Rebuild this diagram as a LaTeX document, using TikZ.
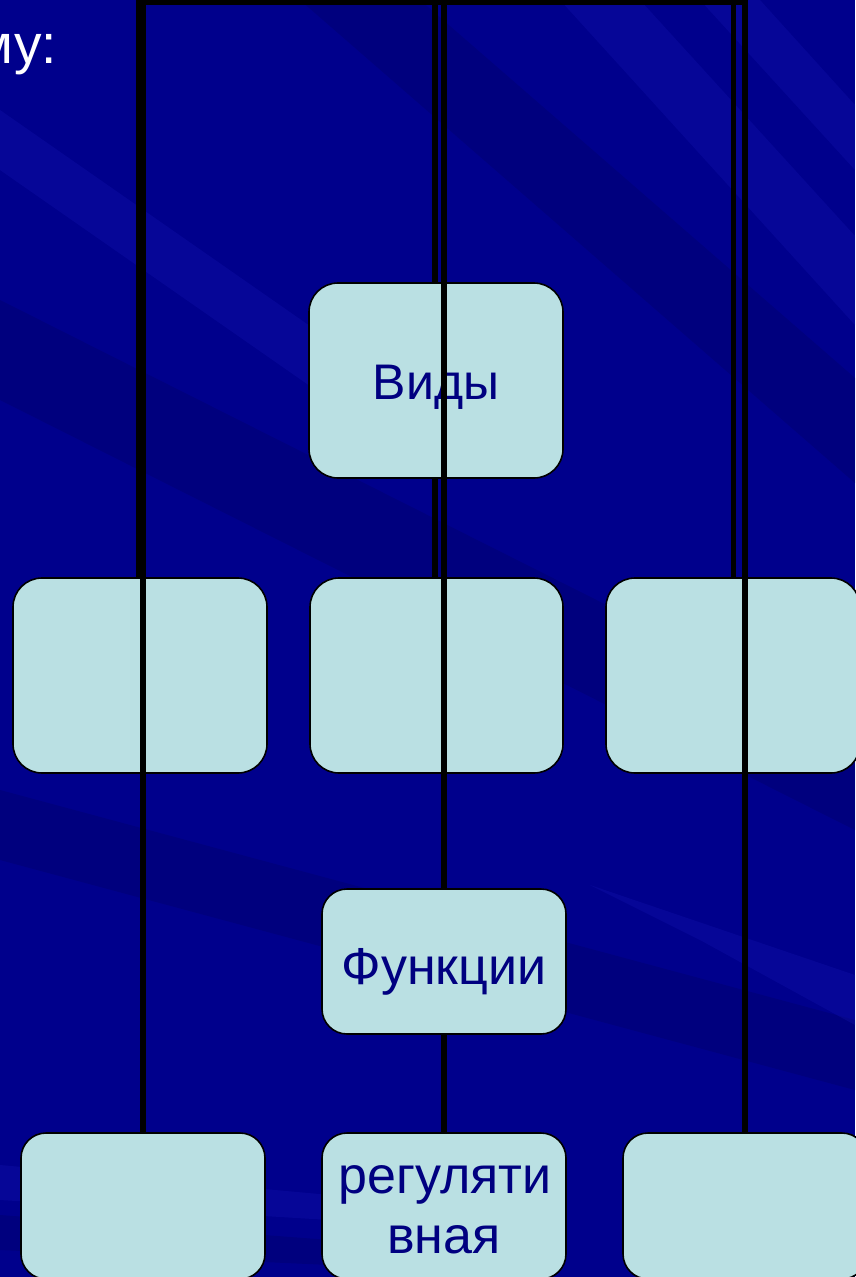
\documentclass[tikz,border=0pt]{standalone}
\usepackage{fontspec}
\setmainfont{Liberation Sans}
\definecolor{bgbase}{RGB}{0,0,140}
\definecolor{bgdark}{RGB}{0,0,100}
\definecolor{bglight}{RGB}{25,25,185}
\definecolor{boxfill}{RGB}{186,224,227}
\definecolor{txtblue}{RGB}{0,0,128}
\tikzset{
  box/.style={draw=black, line width=1.6pt, fill=boxfill, rounded corners=29pt, inner sep=0pt, minimum width=254pt, minimum height=195pt},
  sbox/.style={box, rounded corners=25pt, minimum width=244pt, minimum height=146pt},
  lbl/.style={text=txtblue, font=\fontsize{50}{60}\selectfont, inner sep=0pt},
  lblB/.style={lbl, font=\fontsize{52}{62}\selectfont},
  linkA/.style={line width=5.5pt, draw=black},
  linkB/.style={line width=6pt, draw=black},
  streakD/.style={fill=bgdark, opacity=0.35},
  streakL/.style={fill=bglight, opacity=0.25},
}
\begin{document}
\begin{tikzpicture}[x=1pt,y=-1pt]
\useasboundingbox (0,0) rectangle (855,1277);
\fill[bgbase] (0,0) rectangle (855,1277);
% background streaks
\begin{scope}
\clip (0,0) rectangle (855,1277);
\fill[streakD] (300,0) -- (420,0) -- (855,378) -- (855,483) -- cycle;
\fill[streakL] (560,0) -- (640,0) -- (855,236) -- (855,325) -- cycle;
\fill[streakL] (700,0) -- (760,0) -- (855,105) -- (855,170) -- cycle;
\fill[streakL] (0,110) -- (0,170) -- (330,400) -- (330,340) -- cycle;
\fill[streakD] (0,300) -- (0,400) -- (855,830) -- (855,730) -- cycle;
\fill[streakD] (0,790) -- (0,860) -- (855,1090) -- (855,1020) -- cycle;
\fill[streakL] (590,885) -- (855,975) -- (855,1025) -- (700,940) -- cycle;
\fill[streakL] (0,1165) -- (330,1195) -- (330,1220) -- (0,1200) -- cycle;
\fill[streakD] (0,1215) -- (330,1240) -- (330,1265) -- (0,1250) -- cycle;
\end{scope}
% cut-off title text
\node[font=\fontsize{55}{66}\selectfont, text=white, anchor=base east, inner sep=0pt] (title) at (57,63) {му:};
% coordinates of the top ends
\coordinate (tA1) at (138.5,2.5);
\coordinate (tA2) at (435,2.5);
\coordinate (tA3) at (733.5,2.5);
\coordinate (tB1) at (143,2.5);
\coordinate (tB2) at (444,2.5);
\coordinate (tB3) at (745,2.5);
\coordinate (tl) at (136,2.5);
\coordinate (tr) at (748,2.5);
% first diagram (Виды)
\node[box] (vidy) at (436,380.5) {};
\node[box] (m1) at (140,675.5) {};
\node[box, minimum width=253pt] (m2) at (436.5,675.5) {};
\node[box] (m3) at (733,675.5) {};
\draw[linkA] (tA1) -- (tA1 |- m1.north);
\draw[linkA] (tA2) -- (tA2 |- vidy.north);
\draw[linkA] (tA2 |- vidy.south) -- (tA2 |- m2.north);
\draw[linkA] (tA3) -- (tA3 |- m3.north);
\node[lbl, anchor=base] (vidyT) at (436,399) {Виды};
% top line
\draw[line width=5pt] (tl) -- (tr);
% second diagram (Функции)
\coordinate (fTop) at (444,889);
\coordinate (fBot) at (444,1034);
\draw[linkB] (tB1) -- (tB1 |- 0,1133);
\draw[linkB] (tB2) -- (fTop);
\draw[linkB] (fBot) -- (tB2 |- 0,1133);
\draw[linkB] (tB3) -- (tB3 |- 0,1133);
\node[sbox] (b1) at (143,1206) {};
\node[sbox] (b2) at (444,1206) {};
\node[sbox] (b3) at (745,1206) {};
\node[sbox, minimum height=145pt] (funk) at (444,961.5) {};
\node[lblB, anchor=base] (funkT) at (444,984) {Функции};
\node[lblB, anchor=base] (regT1) at (445,1193) {регуляти};
\node[lblB, anchor=base] (regT2) at (444,1253) {вная};
\end{tikzpicture}
\end{document}
